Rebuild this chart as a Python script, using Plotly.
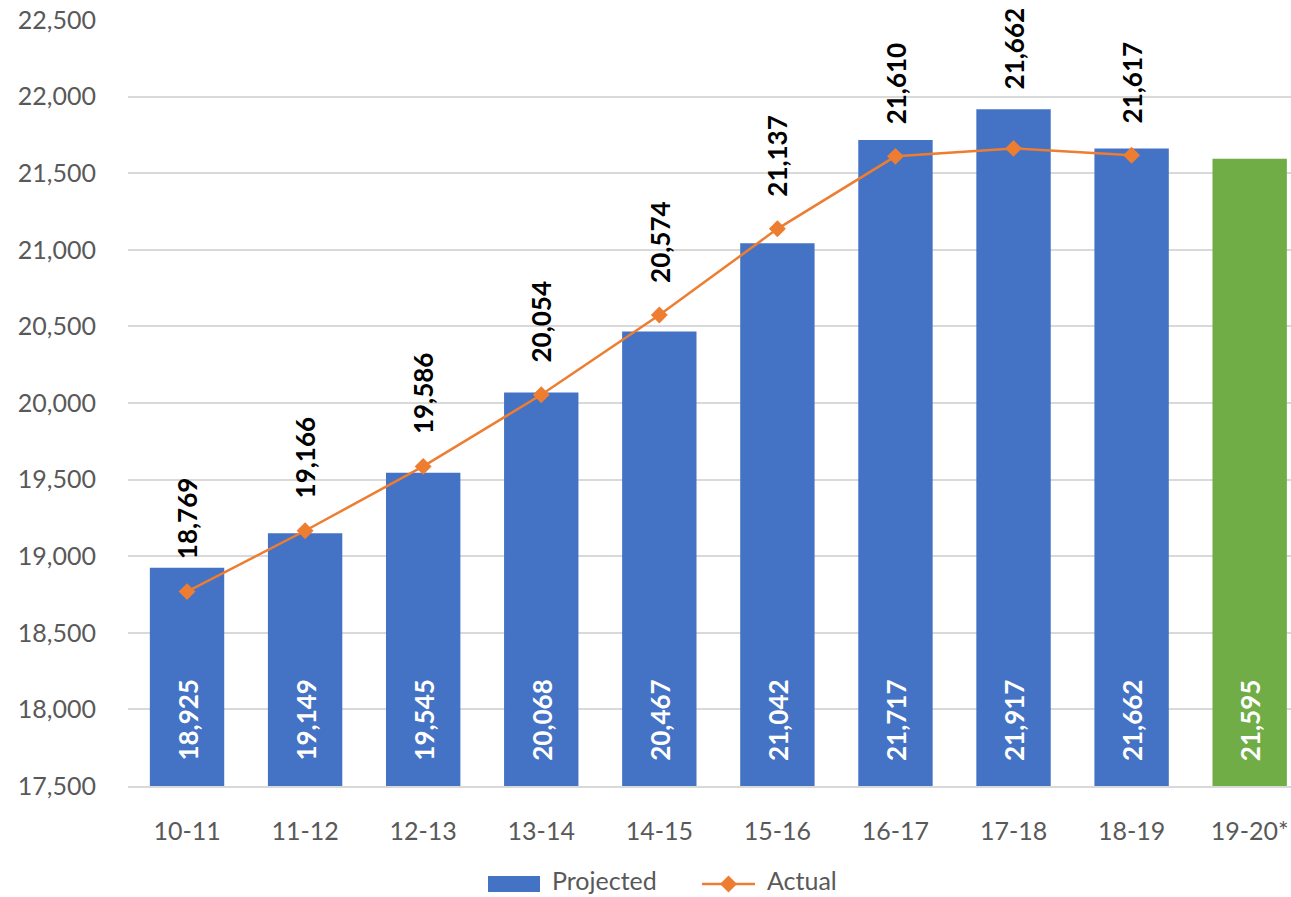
import plotly.graph_objects as go

# School years, projected vs actual enrolment
years = ["10-11", "11-12", "12-13", "13-14", "14-15", "15-16", "16-17", "17-18", "18-19", "19-20*"]
projected = [18925, 19149, 19545, 20068, 20467, 21042, 21717, 21917, 21662, 21595]
actual = [18769, 19166, 19586, 20054, 20574, 21137, 21610, 21662, 21617]

BLUE = "#4472C4"
GREEN = "#70AD47"
ORANGE = "#ED7D31"
GREY_TEXT = "#595959"
GRID = "#D9D9D9"
FONT = "Lato"

W, H = 1291, 897
ML, MR, MT, MB = 128, 0, 20, 111
PW, PH = W - ML - MR, H - MT - MB


def px(x):
    return (x - ML) / PW


def py(y):
    return (H - MB - y) / PH


bar_colors = [BLUE] * (len(years) - 1) + [GREEN]

fig = go.Figure()

fig.add_trace(go.Bar(
    x=years,
    y=projected,
    name="Projected",
    marker=dict(color=bar_colors, line=dict(width=0)),
    width=0.63,
    hoverinfo="x+y",
))

fig.add_trace(go.Scatter(
    x=years[:len(actual)],
    y=actual,
    name="Actual",
    mode="lines+markers",
    line=dict(color=ORANGE, width=2.5),
    marker=dict(symbol="diamond", size=13, color=ORANGE),
))

# Value labels: actual above each marker, projected inside each bar base
label_lift = {7: 57}
annotations = []
for i, v in enumerate(actual):
    annotations.append(dict(
        x=years[i], y=v, xref="x", yref="y",
        text=f"{v:,}", showarrow=False, textangle=-90,
        xanchor="center", yanchor="bottom", yshift=label_lift.get(i, 30),
        font=dict(family=FONT, size=26, color="#000000", weight="bold"),
    ))
for i, v in enumerate(projected):
    annotations.append(dict(
        x=years[i], y=17500, xref="x", yref="y",
        text=f"{v:,}", showarrow=False, textangle=-90,
        xanchor="center", yanchor="bottom", yshift=23,
        font=dict(family=FONT, size=26, color="#FFFFFF", weight="bold"),
    ))

# Legend drawn below the plot: bar swatch, line-with-diamond swatch
legend_font = dict(family=FONT, size=25, color=GREY_TEXT)
shapes = [
    dict(type="rect", xref="paper", yref="paper",
         x0=px(488), x1=px(540), y0=py(892), y1=py(876),
         fillcolor=BLUE, line=dict(width=0)),
    dict(type="line", xref="paper", yref="paper",
         x0=px(702), x1=px(755), y0=py(884), y1=py(884),
         line=dict(color=ORANGE, width=2.5)),
]
dx, dy = 8.5 / PW, 8.5 / PH
cx, cy = px(728.5), py(884)
shapes.append(dict(
    type="path", xref="paper", yref="paper",
    path=f"M {cx - dx} {cy} L {cx} {cy + dy} L {cx + dx} {cy} L {cx} {cy - dy} Z",
    fillcolor=ORANGE, line=dict(width=0),
))
annotations += [
    dict(x=px(550), y=py(880), xref="paper", yref="paper", text="Projected",
         showarrow=False, xanchor="left", yanchor="middle", font=legend_font),
    dict(x=px(765), y=py(880), xref="paper", yref="paper", text="Actual",
         showarrow=False, xanchor="left", yanchor="middle", font=legend_font),
]

fig.update_layout(
    width=W, height=H,
    margin=dict(l=ML, r=MR, t=MT, b=MB, autoexpand=False),
    paper_bgcolor="white", plot_bgcolor="white",
    font=dict(family=FONT, size=25, color=GREY_TEXT),
    showlegend=False,
    annotations=annotations,
    shapes=shapes,
    bargap=0.37,
)

fig.update_xaxes(
    type="category",
    range=[-0.5, 9.35],
    showgrid=False,
    showline=True, linecolor=GRID, linewidth=2,
    ticks="", ticklabelstandoff=22,
    tickfont=dict(family=FONT, size=25, color=GREY_TEXT),
    fixedrange=True,
)

fig.update_yaxes(
    range=[17500, 22500],
    tick0=17500, dtick=500,
    tickformat=",d",
    showgrid=True, gridcolor=GRID, gridwidth=2,
    zeroline=False, showline=False,
    ticks="", ticklabelstandoff=31,
    tickfont=dict(family=FONT, size=25, color=GREY_TEXT),
    fixedrange=True,
)

fig.write_html("out.html")
